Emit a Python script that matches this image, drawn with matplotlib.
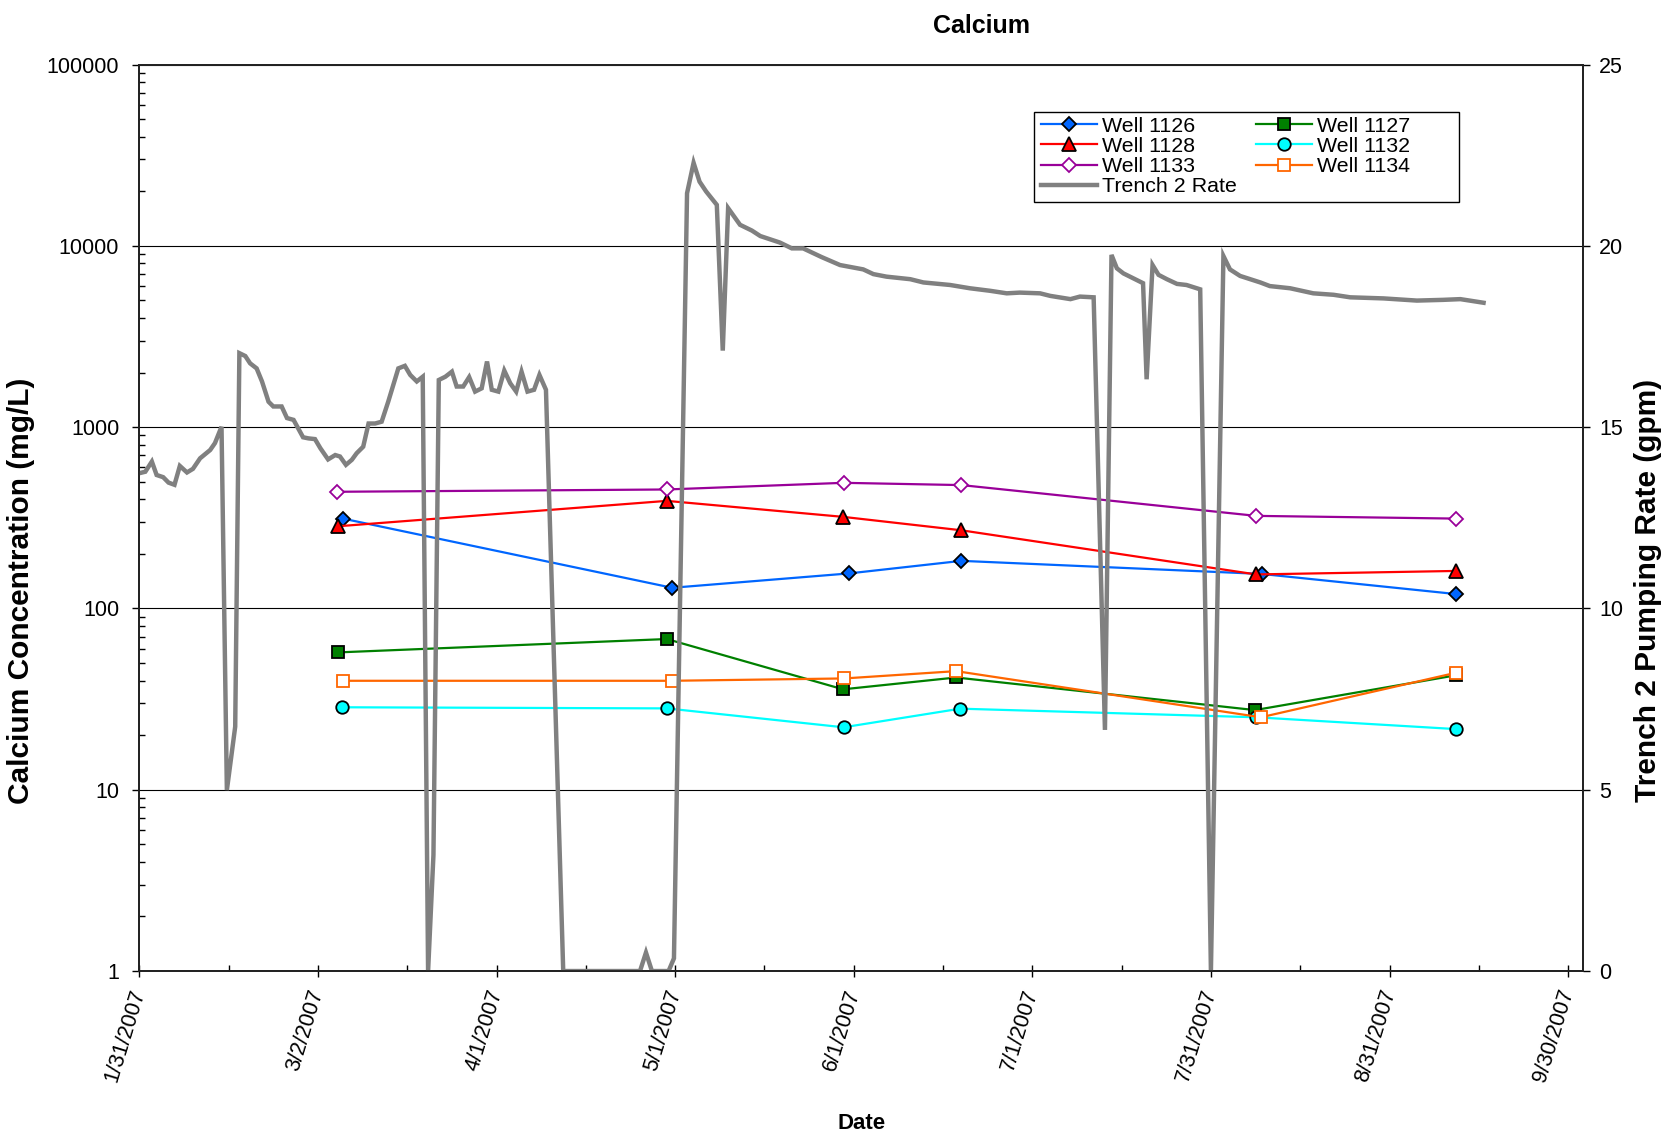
import matplotlib
matplotlib.use("Agg")
import matplotlib.pyplot as plt
from matplotlib.patches import Rectangle
from matplotlib.ticker import FixedLocator, NullFormatter, FixedFormatter

plt.rcParams['font.family'] = ['Liberation Sans', 'DejaVu Sans']

# x axis: days counted from 1/31/2007
tick_days = [0, 30, 60, 90, 120, 150, 180, 210, 240]
date_labels = ['1/31/2007', '3/2/2007', '4/1/2007', '5/1/2007', '6/1/2007',
               '7/1/2007', '7/31/2007', '8/31/2007', '9/30/2007']

# calcium concentrations (mg/L) by well
well_1126_day = [34.2, 89.5, 119.2, 138.1, 188.5, 221.2]
well_1126 = [313, 130, 156, 183, 155, 120]
well_1127_day = [33.3, 88.6, 118.2, 137.2, 187.4, 221.2]
well_1127 = [57.2, 67.8, 35.8, 41.6, 27.5, 42.8]
well_1128_day = [33.4, 88.6, 118.2, 138.0, 187.6, 221.2]
well_1128 = [284, 392, 320, 270, 154, 161]
well_1132_day = [34.0, 88.6, 118.3, 137.9, 187.6, 221.2]
well_1132 = [28.5, 28.1, 22.1, 28.0, 25.1, 21.6]
well_1133_day = [33.2, 88.6, 118.3, 138.1, 187.6, 221.2]
well_1133 = [440, 453, 493, 479, 324, 313]
well_1134_day = [34.2, 89.5, 118.4, 137.2, 188.4, 221.2]
well_1134 = [39.9, 39.9, 41.1, 45.1, 25.1, 44.2]

# Trench 2 pumping rate (gpm)
trench_day = [0, 1, 2.1, 2.9, 4.0, 4.9, 5.9, 6.8, 8.0, 9.0, 10.2, 11.9, 12.7, 13.8,
              14.7, 16.1, 16.8, 17.8, 18.6, 19.7, 20.6, 21.7, 22.5, 23.9, 24.8, 25.9,
              27.5, 28.4, 29.5, 30.4, 31.7, 32.9, 33.7, 34.7, 35.7, 36.5, 37.6, 38.5,
              39.6, 40.7, 41.8, 43.5, 44.6, 45.5, 46.6, 47.6, 48.5, 49.4, 50.3, 51.4,
              52.5, 53.3, 54.4, 55.4, 56.4, 57.5, 58.4, 59.2, 60.3, 61.3, 62.3, 63.3,
              64.2, 65.2, 66.3, 67.2, 68.3, 71.2, 84.1, 85.1, 86.1, 88.9, 89.8, 92.0,
              93.1, 94.1, 95.2, 97.0, 98.0, 98.9, 100.9, 102.9, 104.3, 107.6, 109.6,
              111.5, 114.6, 117.7, 121.6, 123.3, 125.5, 129.5, 131.7, 136.2, 139.5,
              142.9, 145.7, 147.9, 151.3, 153.0, 156.4, 158.0, 160.3, 162.2, 163.3,
              164.2, 165.3, 168.1, 168.6, 169.2, 170.2, 171.2, 172.6, 174.3, 175.9,
              178.2, 180.0, 182.1, 183.2, 184.9, 188.3, 189.9, 193.3, 197.2, 200.6,
              203.4, 209.0, 214.6, 219.0, 221.9, 225.8]
trench_rate = [13.73, 13.77, 14.05, 13.68, 13.62, 13.47, 13.41, 13.93, 13.75, 13.85,
               14.14, 14.37, 14.56, 15.01, 4.99, 6.74, 17.04, 16.96, 16.76, 16.62,
               16.26, 15.70, 15.57, 15.57, 15.25, 15.20, 14.72, 14.69, 14.67, 14.42,
               14.11, 14.23, 14.19, 13.96, 14.10, 14.28, 14.46, 15.10, 15.10, 15.15,
               15.70, 16.62, 16.69, 16.44, 16.26, 16.39, 0.0, 3.2, 16.30, 16.39,
               16.53, 16.12, 16.12, 16.38, 15.98, 16.07, 16.81, 16.03, 15.98, 16.56,
               16.21, 15.98, 16.53, 15.98, 16.03, 16.44, 16.03, 0.0, 0.0, 0.51,
               0.0, 0.0, 0.35, 21.45, 22.29, 21.77, 21.50, 21.13, 17.11, 21.04,
               20.58, 20.42, 20.27, 20.09, 19.93, 19.93, 19.69, 19.47, 19.35, 19.22,
               19.15, 19.08, 18.99, 18.92, 18.83, 18.76, 18.69, 18.71, 18.69, 18.62,
               18.53, 18.60, 18.58, 6.65, 19.75, 19.38, 19.24, 19.01, 18.97, 16.32,
               19.47, 19.20, 19.08, 18.95, 18.92, 18.80, 0.0, 19.72, 19.35, 19.17,
               18.99, 18.89, 18.83, 18.69, 18.65, 18.58, 18.55, 18.49, 18.51, 18.53,
               18.43]

fig = plt.figure(figsize=(16.67, 11.34), dpi=100)
ax = fig.add_axes([0.0836, 0.1437, 0.8660, 0.7994])
ax2 = ax.twinx()

ax.set_yscale('log')
ax.set_ylim(1, 100000)
ax.set_xlim(0, 242.5)
ax2.set_ylim(0, 25)

ax.yaxis.set_major_locator(FixedLocator([1, 10, 100, 1000, 10000, 100000]))
ax.yaxis.set_major_formatter(FixedFormatter(['1', '10', '100', '1000', '10000', '100000']))
minor = [m * 10 ** e for e in range(0, 5) for m in range(2, 10)]
ax.yaxis.set_minor_locator(FixedLocator(minor))
ax.yaxis.set_minor_formatter(NullFormatter())
ax.grid(True, which='major', axis='y', color='black', linewidth=0.8)
ax.set_axisbelow(True)

ax.xaxis.set_major_locator(FixedLocator(tick_days))
ax.xaxis.set_minor_locator(FixedLocator([d + 15 for d in tick_days[:-1]]))
ax.set_xticklabels(date_labels, rotation=73, ha='right', va='center',
                   rotation_mode='anchor', fontsize=15.5)
ax.tick_params(axis='x', which='major', direction='inout', length=9, width=1,
               pad=9)
ax.tick_params(axis='x', which='minor', direction='in', length=4, width=1)
ax.tick_params(axis='y', which='major', direction='out', length=5, width=1,
               labelsize=15.5, pad=9.5)
ax.tick_params(axis='y', which='minor', direction='in', length=4, width=1)

ax2.set_yticks([0, 5, 10, 15, 20, 25])
ax2.tick_params(axis='y', direction='out', length=5, width=1, labelsize=15.5, pad=6.5)

for a in (ax, ax2):
    for s in a.spines.values():
        s.set_linewidth(1.3)
        s.set_color('#222222')

lw = 1.6
mew = 1.3
h1126, = ax.plot(well_1126_day, well_1126, color='#0066FF', lw=lw, marker='D',
                 ms=7, mfc='#0066FF', mec='black', mew=mew, label='Well 1126')
h1127, = ax.plot(well_1127_day, well_1127, color='#008000', lw=lw, marker='s',
                 ms=8.5, mfc='#008000', mec='black', mew=mew, label='Well 1127')
h1128, = ax.plot(well_1128_day, well_1128, color='#FF0000', lw=lw, marker='^',
                 ms=9.5, mfc='#FF0000', mec='black', mew=mew, label='Well 1128')
h1132, = ax.plot(well_1132_day, well_1132, color='#00FFFF', lw=lw, marker='o',
                 ms=9, mfc='#00FFFF', mec='black', mew=mew, label='Well 1132')
h1133, = ax.plot(well_1133_day, well_1133, color='#990099', lw=lw, marker='D',
                 ms=7, mfc='white', mec='#990099', mew=mew, label='Well 1133')
h1134, = ax.plot(well_1134_day, well_1134, color='#FF6600', lw=lw, marker='s',
                 ms=8.5, mfc='white', mec='#FF6600', mew=mew, label='Well 1134')

htr, = ax2.plot(trench_day, trench_rate, color='#808080', lw=3.2,
                solid_joinstyle='miter', label='Trench 2 Rate')

# legend box drawn separately so it can be wider than its entries
ax2.add_patch(Rectangle((0.6197, 0.8488), 0.2944, 0.0986, transform=ax2.transAxes,
                        facecolor='white', edgecolor='black', linewidth=1.0,
                        zorder=4))
handles = [h1126, h1128, h1133, htr, h1127, h1132, h1134]
leg = ax2.legend(handles=handles, labels=[h.get_label() for h in handles],
                 ncol=2, loc='upper left', bbox_to_anchor=(0.6245, 0.9425),
                 fontsize=15.4, frameon=False, borderpad=0, labelspacing=0.06,
                 handlelength=2.6, handletextpad=0.25, columnspacing=0.9,
                 borderaxespad=0)
leg.set_zorder(5)

fig.text(0.5885, 0.9775, 'Calcium', ha='center', va='center', fontsize=18,
         fontweight='bold')
ax.set_xlabel('Date', fontsize=16, fontweight='bold', labelpad=20)
fig.text(0.0125, 0.479, 'Calcium Concentration (mg/L)', rotation=90, ha='center',
         va='center', fontsize=21.5, fontweight='bold')
fig.text(0.9885, 0.479, 'Trench 2 Pumping Rate (gpm)', rotation=90, ha='center',
         va='center', fontsize=21.5, fontweight='bold')

fig.savefig('out.png', dpi=100)
